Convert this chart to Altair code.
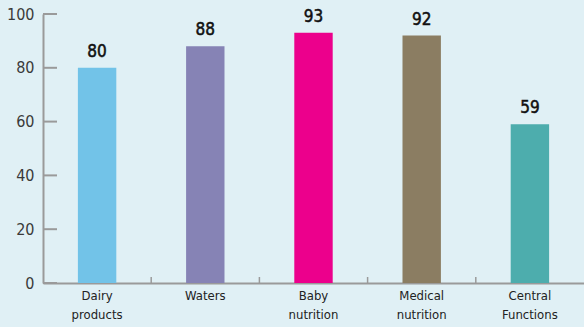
import altair as alt
import pandas as pd

categories = ["Dairy products", "Waters", "Baby nutrition", "Medical nutrition", "Central Functions"]
label_lines = [["Dairy", "products"], ["Waters"], ["Baby", "nutrition"], ["Medical", "nutrition"], ["Central", "Functions"]]
values = [80, 88, 93, 92, 59]
colors = ["#72c3e8", "#8683b5", "#ec008c", "#8b7d62", "#4dadad"]
y_ticks = [0, 20, 40, 60, 80, 100]

df = pd.DataFrame({"cat": categories, "value": values, "color": colors})
ticks_df = pd.DataFrame({"t": y_ticks})

font = "'Liberation Sans Narrow', 'DejaVu Sans Condensed', 'Arial Narrow', 'Roboto Condensed', 'Liberation Sans', sans-serif"
W, H = 541, 269

label_expr = "{" + ",".join(
    f"'{c}': [" + ",".join(f"'{l}'" for l in ls) + "]" for c, ls in zip(categories, label_lines)
) + "}[datum.value]"

xscale = alt.Scale(domain=categories, paddingInner=0, paddingOuter=0)
yscale = alt.Scale(domain=[0, 100])

bars = alt.Chart(df).mark_bar(width=alt.RelativeBandSize(0.355)).encode(
    x=alt.X("cat:N", scale=xscale, sort=categories,
            axis=alt.Axis(title=None, labelAngle=0, ticks=False, domain=True,
                          domainColor="#9a9a9a", domainWidth=2,
                          labelExpr=label_expr, labelFont=font, labelFontSize=13,
                          labelColor="#222222", labelPadding=6, labelLineHeight=19,
                          labelBaseline="top")),
    y=alt.Y("value:Q", scale=yscale,
            axis=alt.Axis(title=None, values=y_ticks, ticks=False, grid=False,
                          domainColor="#9a9a9a", domainWidth=2,
                          labelFont=font, labelFontSize=16, labelColor="#3a3a3a",
                          labelPadding=9)),
    color=alt.Color("color:N", scale=None),
)

texts = alt.Chart(df).mark_text(baseline="bottom", dy=-7, font=font, fontSize=17,
                                color="#111111", stroke="#111111", strokeWidth=0.5).encode(
    x=alt.X("cat:N", scale=xscale, sort=categories),
    y=alt.Y("value:Q", scale=yscale),
    text="value:Q",
)

ytick_rules = alt.Chart(ticks_df).mark_rule(color="#9a9a9a", strokeWidth=2).encode(
    y=alt.Y("t:Q", scale=yscale),
    x=alt.value(0),
    x2=alt.value(14),
)

xtick_rules = alt.Chart(df.iloc[1:]).mark_rule(color="#9a9a9a", strokeWidth=1.5).encode(
    x=alt.X("cat:N", scale=xscale, sort=categories, bandPosition=0),
    y=alt.value(H - 6),
    y2=alt.value(H),
)

chart = alt.layer(bars, texts, ytick_rules, xtick_rules).properties(
    width=W, height=H,
    background="#e0f0f5",
    padding={"left": 43, "top": 14, "right": 0, "bottom": 44},
    autosize=alt.AutoSizeParams(type="none"),
).configure_view(stroke=None)

chart.save("out.html", embed_options={"renderer": "svg", "actions": False})
